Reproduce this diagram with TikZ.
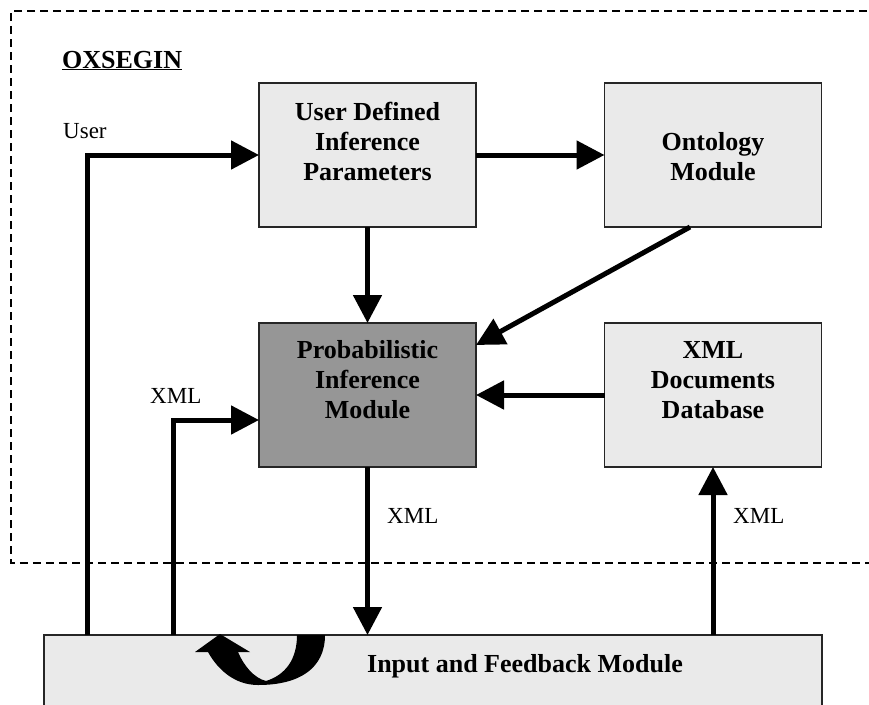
\documentclass[tikz,border=0pt]{standalone}
\usepackage{fontspec}
\setmainfont{Liberation Serif}
\usetikzlibrary{arrows.meta}
\definecolor{lg}{HTML}{EAEAEA}
\definecolor{dg}{HTML}{969696}
\tikzset{mod/.style={draw=black!85,line width=1.5pt,fill=lg,rectangle,minimum width=217pt,minimum height=144pt,inner sep=0pt,outer sep=0pt},
  txt/.style={anchor=north,align=center,inner sep=0pt,font=\fontsize{26}{30}\selectfont\bfseries},
  lbl/.style={anchor=base west,inner sep=0pt,font=\fontsize{23}{27}\selectfont},
  flow/.style={line width=5pt,-{Triangle[length=28pt,width=28pt]}}}

\begin{document}
\begin{tikzpicture}[x=1pt,y=-1pt]
    \useasboundingbox (0,0) rectangle (869,704);
    % system frame
    \draw[line width=2.5pt,dash pattern=on 8pt off 5pt] (880,11) -- (11,11) -- (11,563) -- (880,563);
    \node[anchor=base west,inner sep=0pt,font=\fontsize{26}{30}\selectfont\bfseries] (title) at (62,68) {\underline{OXSEGIN}};

    % modules
    \node[mod] (udip) at (367.5,155) {};
    \node[txt] (udipt) at ([yshift=-19pt]udip.north) {User Defined\\Inference\\Parameters};
    \node[mod] (onto) at (713,155) {};
    \node[txt] (ontot) at ([yshift=-49pt]onto.north) {Ontology\\Module};
    \node[mod,fill=dg] (pim) at (367.5,395) {};
    \node[txt] (pimt) at ([yshift=-17.5pt]pim.north) {Probabilistic\\Inference\\Module};
    \node[mod] (xdb) at (713,395) {};
    \node[txt] (xdbt) at ([yshift=-18pt]xdb.north) {XML\\Documents\\Database};
    \node[mod,minimum width=778pt,minimum height=100pt] (ifm) at (433,685) {};
    \node[txt,anchor=base] (ifmt) at (525,672) {Input and Feedback Module};

    % flows
    \draw[flow] (87,0 |- ifm.north) |- (udip.west);
    \node[lbl] (usrl) at (63,138) {User};
    \draw[flow] (173,0 |- ifm.north) |- ([yshift=-25pt]pim.west);
    \node[lbl] (xmll) at (150,403) {XML};
    \draw[flow] (udip.east) -- (onto.west);
    \draw[flow] (udip.south) -- (pim.north);
    \draw[flow] ([xshift=-23pt]onto.south) -- ([yshift=-22pt]pim.north east);
    \draw[flow] (xdb.west) -- (pim.east);
    \draw[flow] (pim.south) -- (pim.south |- ifm.north);
    \node[lbl] (xmlo) at (387,523) {XML};
    \draw[flow] (xdb.south |- ifm.north) -- (xdb.south);
    \node[lbl] (xmli) at (733,523) {XML};

    % feedback loop
    \fill (325,635) .. controls (325,668) and (300,685) .. (258,685)
      .. controls (235,685) and (218,670) .. (208,652) -- (195,652) -- (220,634)
      -- (250,652) -- (238,652) .. controls (244,666) and (254,678) .. (266,681)
      .. controls (285,675) and (297,660) .. (297,635) -- cycle;
\end{tikzpicture}
\end{document}
